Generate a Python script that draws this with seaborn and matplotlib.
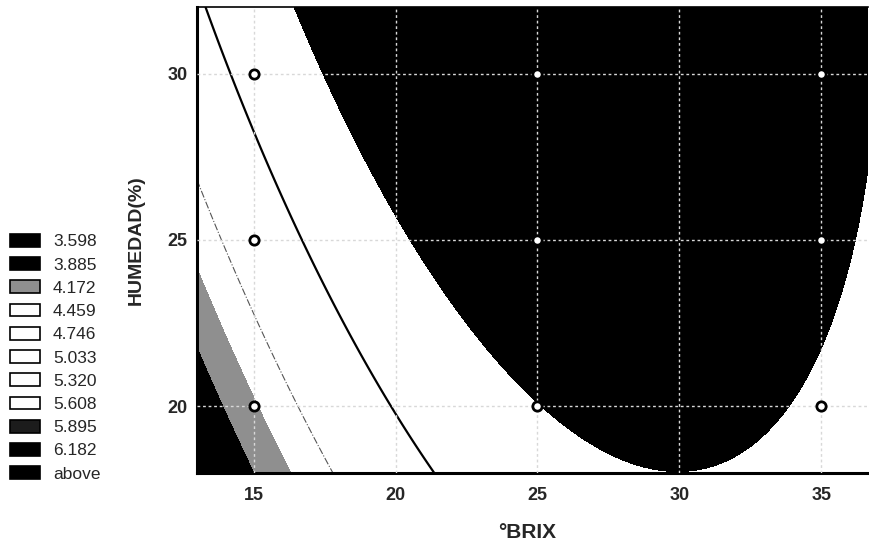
import numpy as np
import matplotlib
matplotlib.use("Agg")
import matplotlib.pyplot as plt
import seaborn as sns
from matplotlib.patches import Patch

# design points (°BRIX, HUMEDAD) and the response estimated at each of them
brix = [15, 15, 15, 25, 25, 25, 35, 35, 35]
humedad = [20, 25, 30, 20, 25, 30, 20, 25, 30]
response = [4.1278, 4.7040, 5.1934, 5.5983, 5.9974, 6.3096, 5.5209, 5.7428, 5.8780]

levels = [3.598, 3.885, 4.172, 4.459, 4.746, 5.033, 5.320, 5.608, 5.895, 6.182]
legend_labels = ["3.598", "3.885", "4.172", "4.459", "4.746", "5.033",
                 "5.320", "5.608", "5.895", "6.182", "above"]
band_colors = ["#000000", "#000000", "#8f8f8f", "#ffffff", "#ffffff", "#ffffff",
               "#ffffff", "#ffffff", "#000000", "#000000", "#000000"]
legend_colors = ["#000000", "#000000", "#8f8f8f", "#ffffff", "#ffffff", "#ffffff",
                 "#ffffff", "#ffffff", "#1c1c1c", "#000000", "#000000"]

def design(x, y):
    x = np.asarray(x, float); y = np.asarray(y, float)
    return np.column_stack([np.ones_like(x), x, y, x * x, y * y, x * y])

# quadratic response surface fitted to the design points
coef, *_ = np.linalg.lstsq(design(brix, humedad), np.array(response), rcond=None)

sns.set_style("white")
plt.rcParams["font.family"] = ["Liberation Sans", "DejaVu Sans"]

fig = plt.figure(figsize=(8.7, 5.45), dpi=100)
ax = fig.add_axes([197/870, 1-473/545, (868-197)/870, (473-7)/545])

gx = np.linspace(13, 36.65, 400)
gy = np.linspace(18, 32, 300)
GX, GY = np.meshgrid(gx, gy)
GZ = (design(GX.ravel(), GY.ravel()) @ coef).reshape(GX.shape)
lv = [min(GZ.min(), 3.0) - 1] + levels + [max(GZ.max(), 7.0) + 1]
ax.contourf(GX, GY, GZ, levels=lv, colors=band_colors, zorder=1)
ax.contour(GX, GY, GZ, levels=[4.459], colors="#555555", linewidths=0.8,
           linestyles="dashdot", zorder=2)
ax.contour(GX, GY, GZ, levels=[5.033], colors="black", linewidths=1.6, zorder=2)

ax.set_xlim(13, 36.65)
ax.set_ylim(18, 32)
ax.set_xticks([15, 20, 25, 30, 35])
ax.set_yticks([20, 25, 30])
ax.set_xticks(np.arange(14, 37, 1), minor=True)
ax.set_yticks(np.arange(19, 32, 1), minor=True)
ax.set_axisbelow(False)
ax.grid(True, which="major", color="#d8d8d8", linestyle=(0, (2, 2)), linewidth=1.0)
ax.tick_params(axis="both", which="major", length=0, labelsize=13)
ax.tick_params(axis="x", which="major", pad=10)
ax.tick_params(axis="y", which="major", pad=7)
ax.tick_params(axis="both", which="minor", direction="in", length=3, width=0.8)
for lab in ax.get_xticklabels() + ax.get_yticklabels():
    lab.set_fontweight("bold")
for s in ["left", "bottom"]:
    ax.spines[s].set_linewidth(2.2)
    ax.spines[s].set_color("black")
ax.spines["top"].set_linewidth(1.2)
ax.spines["top"].set_color("black")
ax.spines["right"].set_visible(False)

sns.scatterplot(x=brix, y=humedad, ax=ax, marker="o", s=45, color="white",
                edgecolor="black", linewidth=2.0, zorder=5, legend=False)

ax.set_xlabel("°BRIX", fontsize=15, fontweight="bold")
ax.set_ylabel("HUMEDAD(%)", fontsize=14, fontweight="bold")
ax.xaxis.set_label_coords((527-197)/671, -(533-473)/466)
ax.xaxis.label.set_va("center")
ax.yaxis.set_label_coords(-(197-136)/671, (473-240)/466)
ax.yaxis.label.set_va("center")

handles = [Patch(facecolor=c, edgecolor="black", linewidth=1.2) for c in legend_colors]
fig.legend(handles, legend_labels, loc="upper left",
           bbox_to_anchor=(10/870, 1-234/545), frameon=False, fontsize=12.5,
           handlelength=1.72, handleheight=0.75, handletextpad=0.75,
           labelspacing=0.45, borderpad=0, borderaxespad=0)

fig.savefig("out.png", dpi=100)
